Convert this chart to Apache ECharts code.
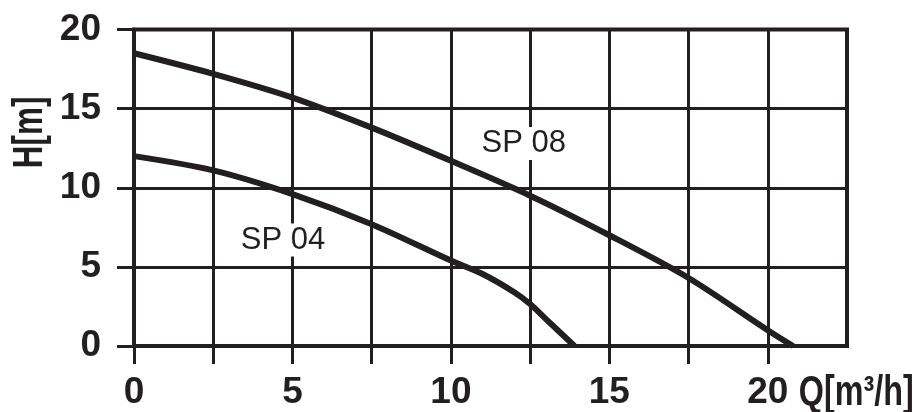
<!DOCTYPE html>
<html>
<head>
<meta charset="utf-8">
<script src="https://cdn.jsdelivr.net/npm/echarts@6/dist/echarts.min.js"></script>
<style>
html,body{margin:0;padding:0;background:#fff;}
#chart{width:917px;height:412px;}
</style>
</head>
<body>
<div id="chart"></div>
<script>
// Data
const sp08Q = [0, 2.5, 5, 7.5, 10, 12.5, 15, 17.5, 20, 20.8];
const sp08H = [18.5, 17.2, 15.7, 13.8, 11.7, 9.5, 7.0, 4.3, 1.0, 0];
const sp04Q = [0, 2.5, 5, 7.5, 10, 11, 12, 12.5, 13, 13.9];
const sp04H = [12.0, 11.1, 9.6, 7.7, 5.4, 4.55, 3.4, 2.65, 1.7, 0];
const xTickValues = [0, 2.5, 5, 7.5, 10, 12.5, 15, 17.5, 20];
const xLabelValues = [0, 5, 10, 15, 20];
const yTickValues = [0, 5, 10, 15, 20];
const curveNames = ['SP 08', 'SP 04'];
const curveLabelAt = [[12.3, 12.8], [4.7, 6.7]];
const xName = 'Q[m³/h]';
const yName = 'H[m]';

const ink = '#231f20';
const font = "'Liberation Sans', Arial, Helvetica, sans-serif";
const zip = (a, b) => a.map((v, i) => [v, b[i]]);

const chart = echarts.init(document.getElementById('chart'));
chart.setOption({
  animation: false,
  backgroundColor: '#fff',
  grid: {left: 134, right: 70, top: 29.5, bottom: 66, containLabel: false, outerBoundsMode: 'none',
    show: true, borderColor: ink, borderWidth: 4, backgroundColor: 'transparent'},
  xAxis: {
    type: 'value', min: 0, max: 22.5, interval: 2.5,
    axisLine: {show: true, lineStyle: {color: ink, width: 4}},
    axisTick: {show: true, length: 18, lineStyle: {color: ink, width: 3}, customValues: xTickValues},
    axisLabel: {
      fontFamily: font, fontSize: 37, fontWeight: 'bold', color: ink, margin: 28,
      customValues: xLabelValues,
      formatter: v => xLabelValues.includes(v) ? String(v) : ''
    },
    splitLine: {show: true, lineStyle: {color: ink, width: 3}}
  },
  yAxis: {
    type: 'value', min: 0, max: 20, interval: 5,
    axisLine: {show: true, lineStyle: {color: ink, width: 4}},
    axisTick: {show: true, length: 17, lineStyle: {color: ink, width: 3}},
    axisLabel: {fontFamily: font, fontSize: 37, fontWeight: 'bold', color: ink, margin: 33,
      formatter: v => yTickValues.includes(v) ? String(v) : ''},
    splitLine: {show: true, lineStyle: {color: ink, width: 3}}
  },
  series: [
    {type: 'line', data: zip(sp08Q, sp08H), smooth: 0.3, showSymbol: false, lineStyle: {color: ink, width: 6}, z: 3},
    {type: 'line', data: zip(sp04Q, sp04H), smooth: 0.3, showSymbol: false, lineStyle: {color: ink, width: 6}, z: 3},
    {
      type: 'scatter', symbolSize: 0, z: 5, itemStyle: {opacity: 1},
      data: curveNames.map((n, i) => ({name: n, value: curveLabelAt[i]})),
      label: {show: true, position: 'inside', formatter: p => p.name, fontFamily: font,
        fontSize: 31, color: ink, opacity: 1, backgroundColor: '#fff', padding: [1, 3]}
    }
  ]
});

// Axis names placed relative to the axes' own pixel positions
const xEnd = chart.convertToPixel({gridIndex: 0}, [xLabelValues[xLabelValues.length - 1], 0]);
const yTop = chart.convertToPixel({gridIndex: 0}, [0, 13.5]);
chart.setOption({
  graphic: [
    {type: 'text', x: xEnd[0] + 31, y: xEnd[1] + 47, scaleX: 0.77,
      style: {text: xName, font: 'bold 42px ' + font, fill: ink, textAlign: 'left', textVerticalAlign: 'middle'}},
    {type: 'text', x: yTop[0] - 104, y: yTop[1], rotation: Math.PI / 2, scaleX: 0.75,
      style: {text: yName, font: 'bold 42px ' + font, fill: ink, textAlign: 'center', textVerticalAlign: 'middle'}}
  ]
});
</script>
</body>
</html>
